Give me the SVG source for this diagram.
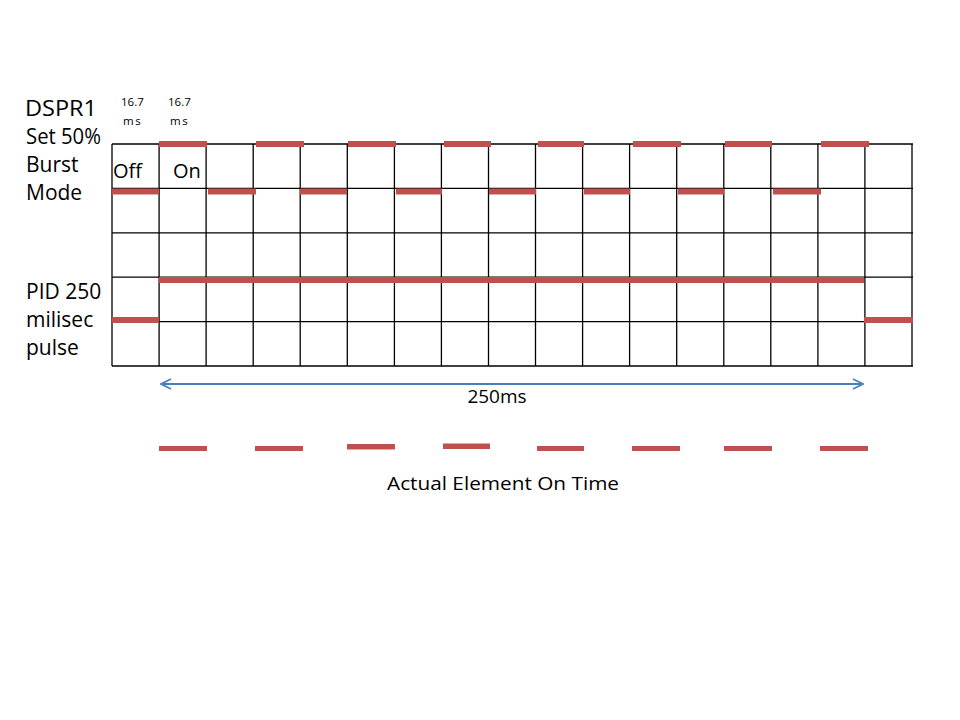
<svg xmlns="http://www.w3.org/2000/svg" width="960" height="720" viewBox="0 0 960 720">
<defs>
<style>
.g{stroke:#000;stroke-width:1.3;fill:none}
.r{fill:#C0504D}
.t{font-family:"Open Sans",Lato,"Liberation Sans",sans-serif;fill:#000}
.big{font-size:21px}
.sm{font-size:11.5px}
</style>
<marker id="ah" viewBox="0 0 12 12" refX="11" refY="6" markerWidth="12" markerHeight="12" markerUnits="userSpaceOnUse" orient="auto-start-reverse">
<path d="M1,1 L11,6 L1,11" fill="none" stroke="#4A7EBB" stroke-width="1.8"/>
</marker>
</defs>
<rect width="960" height="720" fill="#fff"/>
<g id="grid" class="g">
<line x1="112" y1="144" x2="913" y2="144"/>
<line x1="112" y1="188.4" x2="913" y2="188.4"/>
<line x1="112" y1="232.8" x2="913" y2="232.8"/>
<line x1="112" y1="277.2" x2="913" y2="277.2"/>
<line x1="112" y1="321.6" x2="913" y2="321.6"/>
<line x1="112" y1="366" x2="913" y2="366"/>
<line x1="112" y1="144" x2="112" y2="366"/>
<line x1="159.1" y1="144" x2="159.1" y2="366"/>
<line x1="206.1" y1="144" x2="206.1" y2="366"/>
<line x1="253.2" y1="144" x2="253.2" y2="366"/>
<line x1="300.2" y1="144" x2="300.2" y2="366"/>
<line x1="347.3" y1="144" x2="347.3" y2="366"/>
<line x1="394.4" y1="144" x2="394.4" y2="366"/>
<line x1="441.4" y1="144" x2="441.4" y2="366"/>
<line x1="488.5" y1="144" x2="488.5" y2="366"/>
<line x1="535.5" y1="144" x2="535.5" y2="366"/>
<line x1="582.6" y1="144" x2="582.6" y2="366"/>
<line x1="629.6" y1="144" x2="629.6" y2="366"/>
<line x1="676.7" y1="144" x2="676.7" y2="366"/>
<line x1="723.8" y1="144" x2="723.8" y2="366"/>
<line x1="770.8" y1="144" x2="770.8" y2="366"/>
<line x1="817.9" y1="144" x2="817.9" y2="366"/>
<line x1="864.9" y1="144" x2="864.9" y2="366"/>
<line x1="912" y1="144" x2="912" y2="366"/>
</g>
<g id="burst-on" class="r">
<rect x="159" y="141" width="48" height="6"/>
<rect x="256" y="141" width="48" height="6"/>
<rect x="348" y="141" width="48" height="6"/>
<rect x="444" y="141" width="47" height="6"/>
<rect x="538" y="141" width="46" height="6"/>
<rect x="633" y="141" width="48" height="6"/>
<rect x="725" y="141" width="47" height="6"/>
<rect x="821" y="141" width="48" height="6"/>
</g>
<g id="burst-off" class="r">
<rect x="112" y="188.5" width="47" height="6"/>
<rect x="208" y="188.5" width="48" height="6"/>
<rect x="300" y="188.5" width="47" height="6"/>
<rect x="396" y="188.5" width="46" height="6"/>
<rect x="489" y="188.5" width="47" height="6"/>
<rect x="584" y="188.5" width="46" height="6"/>
<rect x="678" y="188.5" width="46" height="6"/>
<rect x="773" y="188.5" width="48" height="6"/>
</g>
<g id="pid" class="r">
<rect x="112" y="317" width="47" height="6"/>
<rect x="159" y="277" width="705" height="6"/>
<rect x="864" y="317" width="49" height="6"/>
</g>
<g id="connectors">
<line x1="161" y1="384" x2="863" y2="384" stroke="#4A7EBB" stroke-width="1.8" marker-start="url(#ah)" marker-end="url(#ah)"/>
</g>
<g id="actual" class="r">
<rect x="159" y="446" width="48" height="5"/>
<rect x="255" y="446" width="48" height="5"/>
<rect x="347" y="444" width="48" height="5.5"/>
<rect x="443" y="443.5" width="47" height="5.5"/>
<rect x="537" y="446" width="47" height="5"/>
<rect x="632" y="446" width="48" height="5"/>
<rect x="724" y="446" width="48" height="5"/>
<rect x="820" y="446" width="48" height="5"/>
</g>
<g id="labels" class="t">
<text class="big" x="25" y="116" textLength="72" lengthAdjust="spacingAndGlyphs">DSPR1</text>
<text class="big" x="26" y="144" textLength="75" lengthAdjust="spacingAndGlyphs">Set 50%</text>
<text class="big" x="26" y="172">Burst</text>
<text class="big" x="26" y="200">Mode</text>
<text class="big" x="26" y="299">PID 250</text>
<text class="big" x="26" y="327">milisec</text>
<text class="big" x="26" y="355">pulse</text>
<text class="sm" x="121" y="106">16.7</text>
<text class="sm" x="123" y="125" letter-spacing="1.5">ms</text>
<text class="sm" x="168" y="106">16.7</text>
<text class="sm" x="170" y="125" letter-spacing="1.5">ms</text>
<text style="font-size:20px" x="113" y="178">Off</text>
<text style="font-size:20px" x="173" y="178">On</text>
<text style="font-size:19px" x="497" y="403" text-anchor="middle">250ms</text>
<text style="font-size:19px" x="387" y="490" textLength="232" lengthAdjust="spacingAndGlyphs">Actual Element On Time</text>
</g>
</svg>
